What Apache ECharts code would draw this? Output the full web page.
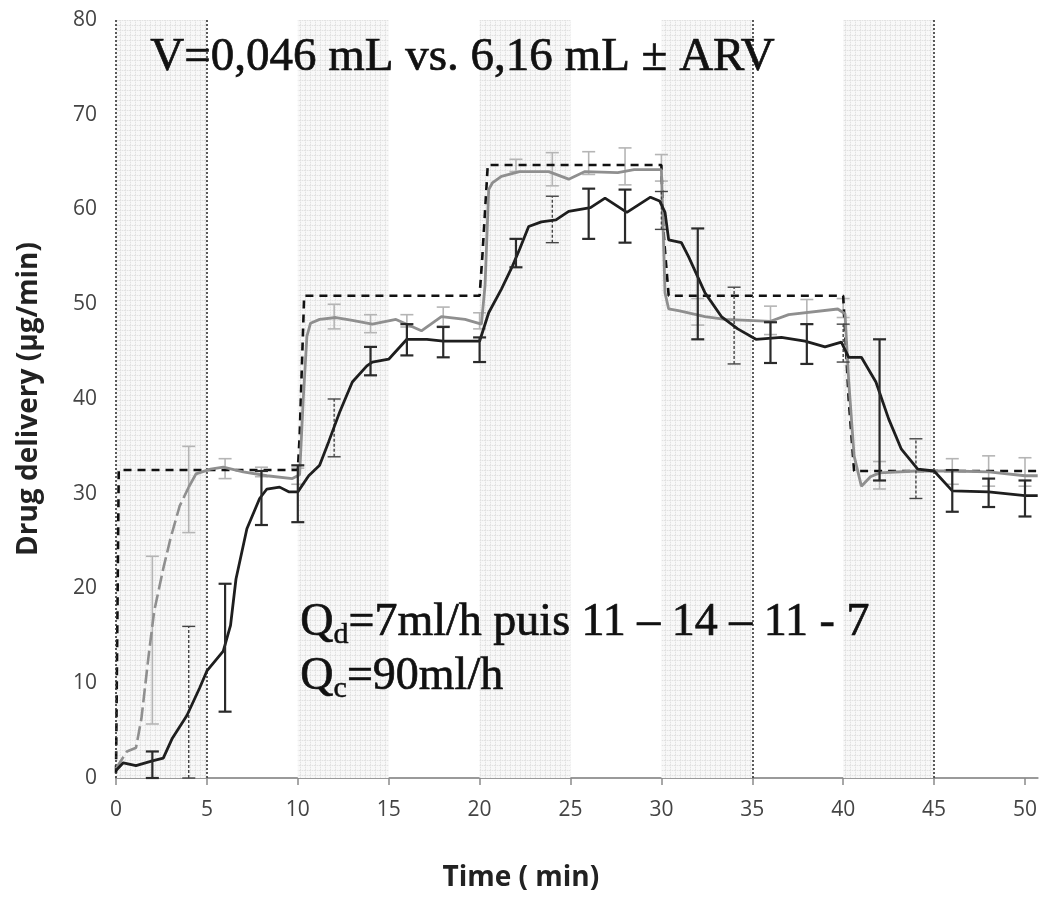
<!DOCTYPE html>
<html><head><meta charset="utf-8">
<script src="https://cdn.jsdelivr.net/npm/echarts@6/dist/echarts.min.js"></script>
<style>html,body{margin:0;padding:0;background:#fff}#c{width:1040px;height:897px}</style>
</head><body><div id="c"></div>
<script>
// ---- axis ticks ----
const xTicks = [0, 5, 10, 15, 20, 25, 30, 35, 40, 45, 50];
const yTicks = [0, 10, 20, 30, 40, 50, 60, 70, 80];

// ---- shaded periods and dotted markers (min) ----
const bandFrom = [0, 10, 20, 30, 40];
const bandTo   = [5, 15, 25, 35, 45];
const dottedAt = [0, 5, 35, 45];

// ---- theoretical (target) delivery, dashed ----
const targetX = [0, 0.15, 10, 10.1, 10.35, 20, 20.15, 20.45, 30, 30.1, 30.4, 40, 40.3, 40.6, 50.7];
const targetY = [0.5, 32.5, 32.5, 36, 50.9, 50.9, 55, 64.7, 64.7, 58, 50.9, 50.9, 40, 32.4, 32.4];

// ---- grey curve (small volume) ----
const grayX = [0, 0.6, 1.1, 1.4, 1.8, 2.1, 2.6, 3.0, 3.5, 4.0, 4.4, 5.2, 5.9, 7.0, 8.3, 9.7, 10.1, 10.3, 10.5, 10.7, 11.2, 12.1, 13.0, 14.1, 15.4, 16.8, 17.9, 19.2, 20.1, 20.3, 20.5, 20.7, 21.2, 22.2, 23.8, 24.9, 25.8, 27.6, 28.5, 30.0, 30.2, 30.4, 31.0, 32.4, 33.5, 36.0, 37.0, 39.7, 40.1, 40.3, 40.6, 41.0, 41.5, 42.0, 44.0, 46.0, 48.0, 50.0, 50.7];
const grayY = [1, 2.8, 3.2, 6.3, 13, 17.6, 22.1, 25.3, 28.7, 30.7, 32.1, 32.6, 32.8, 32.3, 31.9, 31.6, 32, 40, 46.6, 48, 48.4, 48.6, 48.3, 47.9, 48.4, 47.2, 48.7, 48.4, 47.9, 52, 62.1, 62.8, 63.5, 64, 64, 63.2, 64, 63.9, 64.2, 64.2, 51.2, 49.5, 49.3, 48.7, 48.4, 48.2, 48.9, 49.5, 49, 42, 34, 30.8, 31.8, 32.2, 32.4, 32.4, 32.3, 31.9, 31.9];
const grayDashedUntil = 4.0; // early part drawn dashed

// ---- black curve (large volume) ----
const blackX = [0, 0.4, 1.1, 2.0, 2.6, 3.1, 3.9, 4.6, 5.0, 5.9, 6.3, 6.6, 7.2, 7.9, 8.3, 9.0, 9.5, 10.0, 10.6, 11.2, 11.7, 12.3, 13.0, 13.8, 14.1, 15.0, 16.0, 17.1, 18.0, 20.0, 20.5, 21.2, 21.8, 22.2, 22.7, 23.4, 24.2, 24.9, 26.1, 26.9, 28.1, 29.4, 29.9, 30.2, 30.4, 31.1, 31.5, 32.4, 33.3, 34.2, 35.2, 36.6, 37.9, 39.0, 39.9, 40.3, 41.0, 41.8, 42.5, 43.2, 44.1, 45.0, 46.0, 48.0, 50.0, 50.7];
const blackY = [0.8, 1.6, 1.3, 1.8, 2.1, 4.2, 6.6, 9.5, 11.3, 13.4, 16.1, 21, 26.3, 29.5, 30.5, 30.7, 30.2, 30.2, 31.9, 33, 35.5, 38.6, 41.8, 43.5, 43.9, 44.2, 46.3, 46.3, 46.1, 46.1, 49.1, 51.6, 54, 55.8, 58.2, 58.7, 58.9, 59.8, 60.2, 61.2, 59.7, 61.3, 60.9, 59.7, 56.8, 56.5, 55, 51.2, 48.7, 47.4, 46.3, 46.5, 46.1, 45.5, 46, 44.4, 44.4, 41.8, 37.9, 34.7, 32.6, 32.4, 30.3, 30.2, 29.8, 29.8];

// ---- error bars: grey ----
const grayErrX  = [2, 4, 6, 8, 10, 12, 14, 16, 18, 20, 22, 24, 26, 28, 30, 32, 36, 38, 40, 42, 46, 48, 50];
const grayErrLo = [5.7, 25.9, 31.6, 31.8, 31.0, 47.4, 47.0, 47.6, 47.7, 47.4, 64.0, 62.5, 63.7, 62.6, 63.0, 47.8, 46.8, 47.9, 48.6, 30.5, 31.0, 30.8, 30.8];
const grayErrHi = [23.4, 35.0, 33.7, 32.8, 32.7, 50.0, 48.9, 48.9, 49.7, 49.1, 65.3, 66.0, 66.1, 66.5, 65.8, 50.6, 49.8, 50.5, 50.6, 33.4, 33.7, 34.0, 33.8];

// ---- error bars: black ----
const blackErrX  = [2, 6, 8, 10, 14, 16, 18, 20, 22, 26, 28, 32, 36, 38, 42, 46, 48, 50];
const blackErrLo = [0, 7.0, 26.7, 27.0, 42.5, 44.6, 44.4, 43.9, 53.9, 56.9, 56.5, 46.3, 43.8, 43.7, 31.4, 28.1, 28.6, 27.6];
const blackErrHi = [2.8, 20.5, 32.4, 33.0, 45.5, 47.9, 47.6, 46.5, 56.9, 62.2, 62.1, 58.0, 48.1, 47.9, 46.3, 32.5, 31.6, 31.4];

// ---- error bars: dashed dark ----
const dashErrX  = [4, 12, 24, 30, 34, 40, 44];
const dashErrLo = [0, 33.9, 56.5, 57.9, 43.7, 43.9, 29.5];
const dashErrHi = [16, 40.0, 61.4, 61.9, 51.8, 47.9, 35.8];

// ---- texts ----
const yTitle = 'Drug delivery (µg/min)';
const xTitle = 'Time ( min)';

// ---------------------------------------------------------------
const zip = (xs, ys) => xs.map((x, i) => [x, ys[i]]);
const zip3 = (xs, a, b) => xs.map((x, i) => [x, a[i], b[i]]);

// dotted-grid pattern for the shaded bands
const pat = document.createElement('canvas');
pat.width = 5; pat.height = 5;
(function () {
  const g = pat.getContext('2d');
  g.fillStyle = '#f8f8f8'; g.fillRect(0, 0, 5, 5);
  g.fillStyle = '#e2e2e2';
  g.fillRect(0, 0, 5, 1); g.fillRect(0, 0, 1, 5);
  g.fillStyle = '#f0f0f0';
  g.fillRect(1, 0, 1, 1); g.fillRect(3, 0, 1, 1); g.fillRect(0, 1, 1, 1); g.fillRect(0, 3, 1, 1);
})();

function errRender(color, width, dash) {
  return function (params, api) {
    const x = api.value(0), lo = api.value(1), hi = api.value(2);
    const p1 = api.coord([x, lo]), p2 = api.coord([x, hi]);
    const hw = 6.5;
    const st = { stroke: color, lineWidth: width, lineDash: dash || null };
    return {
      type: 'group',
      children: [
        { type: 'line', shape: { x1: p1[0], y1: p1[1], x2: p2[0], y2: p2[1] }, style: st },
        { type: 'line', shape: { x1: p1[0] - hw, y1: p1[1], x2: p1[0] + hw, y2: p1[1] }, style: { stroke: color, lineWidth: width } },
        { type: 'line', shape: { x1: p2[0] - hw, y1: p2[1], x2: p2[0] + hw, y2: p2[1] }, style: { stroke: color, lineWidth: width } }
      ]
    };
  };
}

const grayAll = zip(grayX, grayY);
const splitIdx = grayX.indexOf(grayDashedUntil);

const chart = echarts.init(document.getElementById('c'), null, { renderer: 'canvas' });
chart.setOption({
  animation: false,
  backgroundColor: '#ffffff',
  grid: { left: 116, right: 0, top: 20, bottom: 117, containLabel: false },
  xAxis: {
    type: 'value', min: 0, max: 50.7, interval: 5,
    axisLine: { show: true, lineStyle: { color: '#9a9a9a', width: 2 } },
    axisTick: { show: true, length: 7, customValues: xTicks, lineStyle: { color: '#8a8a8a', width: 1.5 } },
    axisLabel: { customValues: xTicks, margin: 22, fontSize: 21, color: '#444', fontFamily: 'Open Sans' },
    splitLine: { show: false },
    name: xTitle, nameLocation: 'middle', nameGap: 86,
    nameTextStyle: { fontSize: 28, fontWeight: 'bold', color: '#222', fontFamily: 'Open Sans', padding: [0, 112, 0, 0] }
  },
  yAxis: {
    type: 'value', min: 0, max: 80, interval: 10,
    axisLine: { show: false }, axisTick: { show: false },
    axisLabel: { customValues: yTicks, margin: 19, fontSize: 21, color: '#444', fontFamily: 'Open Sans' },
    splitLine: { show: false },
    name: yTitle, nameLocation: 'middle', nameGap: 73, nameRotate: 90,
    nameTextStyle: { fontSize: 28, fontWeight: 'bold', color: '#222', fontFamily: 'Open Sans' }
  },
  graphic: [
    { type: 'text', left: 150, top: 34, z: 100, style: { text: 'V=0,046 mL vs. 6,16 mL ± ARV', font: '47px "Liberation Serif"', fill: '#111', stroke: '#111', lineWidth: 0.7 } },
    { type: 'text', left: 300, top: 600, z: 100, style: {
        text: '{m|Q}{s|d}{m|=7ml/h puis 11 – 14 – 11 - 7}\n{m|Q}{s|c}{m|=90ml/h}',
        fill: '#111',
        rich: {
          m: { fontSize: 46, fontFamily: 'Liberation Serif', lineHeight: 54, verticalAlign: 'middle', fill: '#111', stroke: '#111', lineWidth: 0.7 },
          s: { fontSize: 30, fontFamily: 'Liberation Serif', lineHeight: 30, verticalAlign: 'bottom', fill: '#111', stroke: '#111', lineWidth: 0.5 }
        }
    } }
  ],
  series: [
    {
      type: 'line', name: 'bands', data: [], silent: true, z: 1,
      markArea: {
        silent: true, z: 1,
        itemStyle: { color: { image: pat, repeat: 'repeat' }, borderWidth: 0 },
        data: bandFrom.map((f, i) => [{ xAxis: f, yAxis: 0 }, { xAxis: bandTo[i], yAxis: 80 }])
      },
      markLine: {
        silent: true, symbol: 'none', label: { show: false },
        lineStyle: { color: '#333', type: [2, 2], width: 1.6 },
        data: dottedAt.map(x => [{ coord: [x, 0] }, { coord: [x, 80] }])
      }
    },
    {
      type: 'custom', name: 'gray err', renderItem: errRender('#b5b5b5', 1.6),
      encode: { x: 0, y: [1, 2] }, data: zip3(grayErrX, grayErrLo, grayErrHi), z: 3
    },
    {
      type: 'line', name: 'target', data: zip(targetX, targetY), showSymbol: false,
      lineStyle: { color: '#111', width: 2.6, type: [8, 6] }, z: 4
    },
    {
      type: 'line', name: 'gray early', data: grayAll.slice(0, splitIdx + 1), showSymbol: false,
      lineStyle: { color: '#8f8f8f', width: 2.6, type: [14, 5] }, z: 5
    },
    {
      type: 'line', name: 'gray', data: grayAll.slice(splitIdx), showSymbol: false,
      lineStyle: { color: '#8f8f8f', width: 2.8 }, z: 5
    },
    {
      type: 'custom', name: 'dash err', renderItem: errRender('#444', 1.4, [3, 2]),
      encode: { x: 0, y: [1, 2] }, data: zip3(dashErrX, dashErrLo, dashErrHi), z: 6
    },
    {
      type: 'line', name: 'black', data: zip(blackX, blackY), showSymbol: false,
      lineStyle: { color: '#1e1e1e', width: 2.8 }, z: 7
    },
    {
      type: 'custom', name: 'black err', renderItem: errRender('#2a2a2a', 2.2),
      encode: { x: 0, y: [1, 2] }, data: zip3(blackErrX, blackErrLo, blackErrHi), z: 8
    }
  ]
});
</script></body></html>
